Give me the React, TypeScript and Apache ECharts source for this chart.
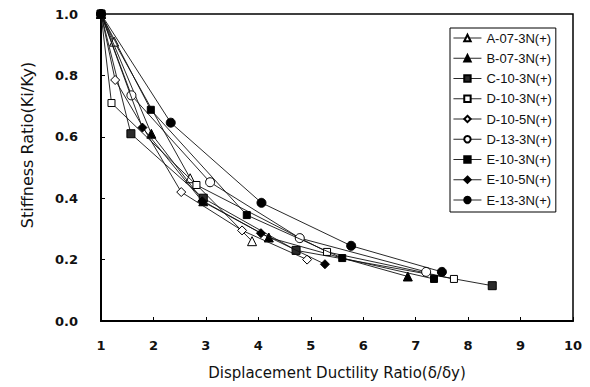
import React, { useEffect, useRef } from "react";
import * as echarts from "echarts";

const seriesNames = [
  "A-07-3N(+)",
  "B-07-3N(+)",
  "C-10-3N(+)",
  "D-10-3N(+)",
  "D-10-5N(+)",
  "D-13-3N(+)",
  "E-10-3N(+)",
  "E-10-5N(+)",
  "E-13-3N(+)",
];

const dataA = [[1, 1], [1.25, 0.91], [2.7, 0.465], [3.88, 0.26]];
const dataB = [[1, 1], [1.96, 0.61], [2.95, 0.39], [4.2, 0.272], [6.85, 0.145]];
const dataC = [[1, 1], [1.57, 0.61], [2.95, 0.4], [4.72, 0.23], [8.46, 0.115]];
const dataD103 = [[1, 1], [1.2, 0.71], [2.82, 0.443], [5.31, 0.225], [7.73, 0.137]];
const dataD105 = [[1, 1], [1.27, 0.785], [2.53, 0.42], [3.69, 0.295], [4.93, 0.2]];
const dataD133 = [[1, 1], [1.58, 0.735], [3.08, 0.452], [4.79, 0.27], [7.2, 0.16]];
const dataE103 = [[1, 1], [1.95, 0.688], [3.78, 0.345], [5.6, 0.205], [7.35, 0.137]];
const dataE105 = [[1, 1], [1.79, 0.63], [2.93, 0.39], [4.05, 0.286], [5.27, 0.185]];
const dataE133 = [[1, 1], [2.33, 0.646], [4.06, 0.385], [5.77, 0.245], [7.5, 0.16]];

const xTicks = [1, 2, 3, 4, 5, 6, 7, 8, 9, 10];
const yTicks = [0, 0.2, 0.4, 0.6, 0.8, 1.0];

const allData = [dataA, dataB, dataC, dataD103, dataD105, dataD133, dataE103, dataE105, dataE133];
const symbols = ["triangle", "triangle", "rect", "rect", "diamond", "circle", "rect", "diamond", "circle"];
const filled = [false, true, true, false, false, false, true, true, true];
const sizes = [9, 9, 8, 7, 9, 9, 7, 9, 9];

export default function App() {
  const ref = useRef<HTMLDivElement>(null);
  useEffect(() => {
    if (!ref.current) return;
    const chart = echarts.init(ref.current, null, { renderer: "svg" });
    const series = seriesNames.map((name, i) => ({
      name,
      type: "line",
      data: allData[i],
      symbol: symbols[i],
      symbolSize: sizes[i],
      showAllSymbol: true,
      lineStyle: { color: "#111", width: 0.9 },
      itemStyle: {
        color: filled[i] ? (i === 2 ? "#2a2a2a" : "#000") : "#fff",
        borderColor: "#000",
        borderWidth: 1,
      },
      emphasis: { disabled: true },
      z: 2 + i,
    }));
    chart.setOption({
      animation: false,
      backgroundColor: "#fff",
      grid: {
        left: 101,
        top: 14,
        right: 17,
        bottom: 66,
        show: true,
        borderColor: "#000",
        borderWidth: 1.5,
        backgroundColor: "transparent",
      },
      xAxis: {
        type: "value",
        min: xTicks[0],
        max: xTicks[xTicks.length - 1],
        interval: 1,
        axisLine: { show: true, lineStyle: { color: "#000", width: 2 } },
        axisTick: { show: true, inside: true, length: 4, lineStyle: { color: "#000" } },
        splitLine: { show: false },
        axisLabel: {
          margin: 18,
          color: "#111",
          fontSize: 13,
          fontWeight: "bold",
          fontFamily: "DejaVu Sans",
        },
      },
      yAxis: {
        type: "value",
        min: yTicks[0],
        max: yTicks[yTicks.length - 1],
        interval: 0.2,
        axisLine: { show: true, lineStyle: { color: "#000", width: 2 } },
        axisTick: { show: true, inside: true, length: 4, lineStyle: { color: "#000" } },
        splitLine: { show: false },
        axisLabel: {
          margin: 23,
          color: "#111",
          fontSize: 13,
          fontWeight: "bold",
          fontFamily: "DejaVu Sans",
          formatter: (v: number) => v.toFixed(1),
        },
      },
      legend: {
        orient: "vertical",
        left: 450,
        top: 28,
        padding: [3, 4, 5, 3],
        borderColor: "#000",
        borderWidth: 1,
        backgroundColor: "#fff",
        itemWidth: 28,
        itemHeight: 8,
        itemGap: 6.25,
        data: seriesNames,
        lineStyle: { width: 0.9 },
        textStyle: {
          fontSize: 13,
          lineHeight: 14,
          height: 14,
          color: "#111",
          fontFamily: "Liberation Sans",
        },
      },
      graphic: [
        {
          type: "text",
          x: 337,
          y: 373,
          style: {
            text: "Displacement Ductility Ratio(δ/δy)",
            font: "15px 'DejaVu Sans'",
            fill: "#111",
            align: "center",
            verticalAlign: "middle",
          },
        },
        {
          type: "text",
          x: 27,
          y: 145,
          rotation: Math.PI / 2,
          style: {
            text: "Stiffness Ratio(Ki/Ky)",
            font: "16px 'DejaVu Sans'",
            fill: "#111",
            align: "center",
            verticalAlign: "middle",
          },
        },
      ],
      series,
    });
    return () => chart.dispose();
  }, []);
  return <div ref={ref} style={{ width: 590, height: 387, position: "absolute", left: 0, top: 0 }} />;
}
